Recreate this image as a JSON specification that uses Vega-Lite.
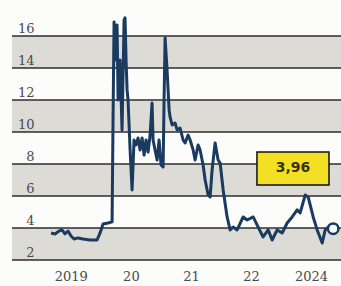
{
  "$schema": "https://vega.github.io/schema/vega-lite/v6.json",
  "width": 329,
  "height": 256,
  "autosize": {"type": "none"},
  "padding": {"left": 12, "top": 4, "right": 0, "bottom": 26},
  "background": "#fcfcfa",
  "config": {"view": {"stroke": null}},
  "datasets": {
    "bands": [
      {"v": 2, "hi": 4}, {"v": 6, "hi": 8}, {"v": 10, "hi": 12}, {"v": 14, "hi": 16}
    ],
    "grid": [
      {"v": 2}, {"v": 4}, {"v": 6}, {"v": 8}, {"v": 10}, {"v": 12}, {"v": 14}, {"v": 16}
    ],
    "series": [
      {"t": 2018.670, "v": 3.69}, {"t": 2018.737, "v": 3.63}, {"t": 2018.803, "v": 3.81},
      {"t": 2018.853, "v": 3.88}, {"t": 2018.903, "v": 3.63}, {"t": 2018.953, "v": 3.81},
      {"t": 2019.003, "v": 3.5}, {"t": 2019.053, "v": 3.31}, {"t": 2019.120, "v": 3.38},
      {"t": 2019.203, "v": 3.31}, {"t": 2019.320, "v": 3.25}, {"t": 2019.437, "v": 3.25},
      {"t": 2019.487, "v": 3.69}, {"t": 2019.537, "v": 4.25}, {"t": 2019.620, "v": 4.31},
      {"t": 2019.687, "v": 4.38}, {"t": 2019.703, "v": 10.75}, {"t": 2019.720, "v": 16.88},
      {"t": 2019.753, "v": 14.5}, {"t": 2019.770, "v": 16.69}, {"t": 2019.787, "v": 12},
      {"t": 2019.820, "v": 14.5}, {"t": 2019.853, "v": 10.13}, {"t": 2019.887, "v": 17},
      {"t": 2019.903, "v": 17.13}, {"t": 2019.920, "v": 14.5}, {"t": 2019.937, "v": 12.63},
      {"t": 2019.953, "v": 12}, {"t": 2019.987, "v": 8.88}, {"t": 2020.020, "v": 6.38},
      {"t": 2020.053, "v": 9.5}, {"t": 2020.087, "v": 9.19}, {"t": 2020.120, "v": 9.63},
      {"t": 2020.153, "v": 8.88}, {"t": 2020.187, "v": 9.63}, {"t": 2020.220, "v": 8.56},
      {"t": 2020.253, "v": 9.5}, {"t": 2020.287, "v": 8.75}, {"t": 2020.320, "v": 9.81},
      {"t": 2020.353, "v": 11.81}, {"t": 2020.370, "v": 9.5}, {"t": 2020.403, "v": 8.88},
      {"t": 2020.437, "v": 8.25}, {"t": 2020.470, "v": 9.5}, {"t": 2020.503, "v": 7.94},
      {"t": 2020.537, "v": 7.81}, {"t": 2020.553, "v": 12}, {"t": 2020.570, "v": 15.88},
      {"t": 2020.603, "v": 13.88}, {"t": 2020.637, "v": 11.38}, {"t": 2020.653, "v": 10.94},
      {"t": 2020.687, "v": 10.44}, {"t": 2020.737, "v": 10.56}, {"t": 2020.770, "v": 10.13},
      {"t": 2020.820, "v": 10.25}, {"t": 2020.870, "v": 9.5}, {"t": 2020.903, "v": 9.31},
      {"t": 2020.953, "v": 9.81}, {"t": 2020.987, "v": 9.5}, {"t": 2021.037, "v": 8.88},
      {"t": 2021.070, "v": 8.25}, {"t": 2021.120, "v": 9.19}, {"t": 2021.153, "v": 8.88},
      {"t": 2021.203, "v": 7.94}, {"t": 2021.237, "v": 7}, {"t": 2021.287, "v": 6.06},
      {"t": 2021.320, "v": 5.94}, {"t": 2021.353, "v": 7.63}, {"t": 2021.403, "v": 9.31},
      {"t": 2021.453, "v": 8.25}, {"t": 2021.487, "v": 8.06}, {"t": 2021.537, "v": 6.38},
      {"t": 2021.603, "v": 4.69}, {"t": 2021.653, "v": 3.88}, {"t": 2021.703, "v": 4.06},
      {"t": 2021.770, "v": 3.88}, {"t": 2021.870, "v": 4.69}, {"t": 2021.937, "v": 4.5},
      {"t": 2022.037, "v": 4.69}, {"t": 2022.120, "v": 4.06}, {"t": 2022.203, "v": 3.44},
      {"t": 2022.287, "v": 3.88}, {"t": 2022.353, "v": 3.25}, {"t": 2022.437, "v": 3.88},
      {"t": 2022.520, "v": 3.69}, {"t": 2022.603, "v": 4.31}, {"t": 2022.687, "v": 4.69},
      {"t": 2022.770, "v": 5.13}, {"t": 2022.820, "v": 4.94}, {"t": 2022.903, "v": 6.06},
      {"t": 2022.953, "v": 5.94}, {"t": 2023.037, "v": 4.69}, {"t": 2023.103, "v": 3.88},
      {"t": 2023.187, "v": 3.06}, {"t": 2023.237, "v": 3.88}, {"t": 2023.287, "v": 4.06},
      {"t": 2023.370, "v": 3.96}
    ],
    "last": [{"t": 2023.370, "v": 3.96}],
    "box": [{"t": 2022.10, "t2": 2023.30, "v": 6.69, "hi": 8.75}],
    "label": [{"t": 2022.70, "v": 7.72, "txt": "3,96"}]
  },
  "encoding": {
    "y": {"field": "v", "type": "quantitative", "scale": {"domain": [2, 18], "nice": false, "zero": false},
      "axis": {"values": [2, 4, 6, 8, 10, 12, 14, 16], "labelOverlap": false, "grid": false, "domain": false,
        "ticks": false, "title": null, "labelAlign": "right", "labelBaseline": "alphabetic", "labelPadding": -22,
        "labelOffset": -4, "labelFont": "DejaVu Serif", "labelFontSize": 13, "labelColor": "#4a4a4a", "zindex": 1}}
  },
  "layer": [
    {
      "data": {"name": "bands"},
      "mark": {"type": "rect", "color": "#dcdbd5"},
      "encoding": {"y2": {"field": "hi"}}
    },
    {
      "data": {"name": "grid"},
      "mark": {"type": "rule", "color": "#2e2e2e", "strokeWidth": 1.3},
      "encoding": {}
    },
    {
      "data": {"name": "series"},
      "mark": {"type": "line", "color": "#1a3a60", "strokeWidth": 3, "strokeJoin": "round"},
      "encoding": {
        "x": {"field": "t", "type": "quantitative", "scale": {"domain": [2018.02, 2023.5], "nice": false, "zero": false},
          "axis": {"values": [2019, 2020, 2021, 2022, 2023], "labelOverlap": false, "grid": false, "domain": false,
            "ticks": false, "title": null, "labelPadding": 10, "labelFont": "DejaVu Serif", "labelFontSize": 13,
            "labelColor": "#4a4a4a",
            "labelExpr": "datum.value == 2019 ? '2019' : datum.value == 2020 ? '20' : datum.value == 2021 ? '21' : datum.value == 2022 ? '22' : '2024'"}}
      }
    },
    {
      "data": {"name": "last"},
      "mark": {"type": "point", "filled": false, "fill": "#ffffff", "stroke": "#1a3a60", "strokeWidth": 2.5, "size": 110, "opacity": 1},
      "encoding": {"x": {"field": "t", "type": "quantitative"}}
    },
    {
      "data": {"name": "box"},
      "mark": {"type": "rect", "fill": "#f3e024", "stroke": "#111111", "strokeWidth": 1.5},
      "encoding": {
        "x": {"field": "t", "type": "quantitative"},
        "x2": {"field": "t2"},
        "y2": {"field": "hi"}
      }
    },
    {
      "data": {"name": "label"},
      "mark": {"type": "text", "font": "DejaVu Sans", "fontSize": 14, "fontWeight": "bold", "color": "#3a3206", "align": "center", "baseline": "middle"},
      "encoding": {
        "x": {"field": "t", "type": "quantitative"},
        "text": {"field": "txt"}
      }
    }
  ]
}
